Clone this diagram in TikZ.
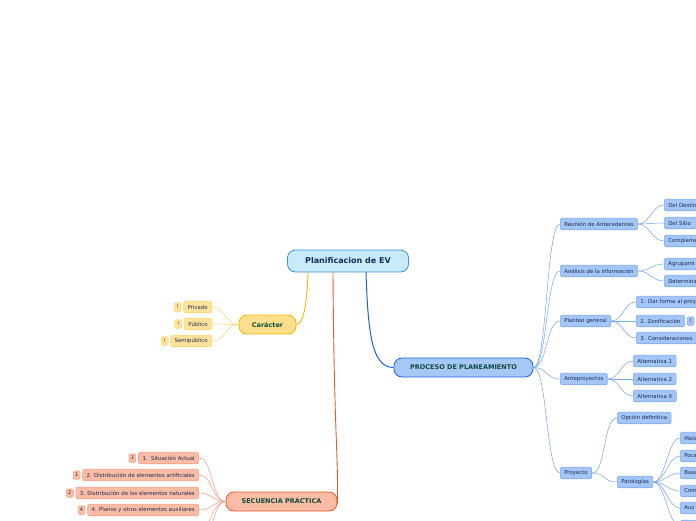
\documentclass[tikz,border=0pt]{standalone}
\usepackage{fontspec}
\setmainfont{DejaVu Sans}
\usepackage{tikz}
\usetikzlibrary{positioning}
\definecolor{rootfill}{HTML}{C8EBFC}
\definecolor{rootline}{HTML}{3D8FD6}
\definecolor{procfill}{HTML}{A6C8F7}
\definecolor{procline}{HTML}{1F60D6}
\definecolor{bluefill}{HTML}{A4C6F6}
\definecolor{blueline}{HTML}{7DA9EE}
\definecolor{orfill}{HTML}{FFDF8C}
\definecolor{orline}{HTML}{F5B700}
\definecolor{orsub}{HTML}{FFE39B}
\definecolor{orsubline}{HTML}{FFD36B}
\definecolor{salfill}{HTML}{FBBCA5}
\definecolor{salline}{HTML}{F0582A}
\definecolor{salsubline}{HTML}{F5A088}
\definecolor{textgreen}{HTML}{0F4A3A}
\definecolor{textnavy}{HTML}{1A2B55}
\tikzset{
  topic/.style={draw,rounded corners=8pt,line width=0.8pt,text=textgreen,
    font=\bfseries\fontsize{6.5}{7}\selectfont,minimum height=19pt},
  sub/.style={draw=blueline,fill=bluefill,rounded corners=2pt,line width=0.6pt,
    text=textnavy,font=\fontsize{5.4}{6.4}\selectfont,minimum height=11.5pt,
    inner xsep=4pt,inner ysep=1pt},
  cut/.style={sub,anchor=west,text width=64pt,align=left},
  badge/.style={draw,rounded corners=1.5pt,line width=0.5pt,text=textnavy,
    font=\fontsize{5}{6}\selectfont,minimum width=7pt,minimum height=8.5pt,inner sep=0.5pt},
  bline/.style={draw=blueline,line width=0.55pt},
  oline/.style={draw=orsubline,line width=0.55pt},
  sline/.style={draw=salsubline,line width=0.55pt},
}
\begin{document}
\begin{tikzpicture}[x=1pt,y=-1pt]
  \useasboundingbox (0,0) rectangle (696,520);
  \clip (0,0) rectangle (696,520);
  % central topic
  \node[draw=rootline,fill=rootfill,rounded corners=8pt,line width=0.8pt,
        minimum width=121pt,minimum height=22pt,text=textnavy,
        font=\bfseries\fontsize{8}{9}\selectfont] (root) at (348,261) {Planificacion de EV};
  \node[topic,draw=orline,fill=orfill,minimum width=57pt] (car) at (267.5,324.5) {Carácter};
  \node[topic,draw=salline,fill=salfill,minimum width=111pt] (sec) at (281.5,501.5) {SECUENCIA PRACTICA};
  \node[topic,draw=procline,fill=procfill,minimum width=139pt] (proc) at (463.5,367.5) {PROCESO DE PLANEAMIENTO};
  \draw[orline,line width=0.9pt] ([xshift=-40pt]root.south) .. controls +(-1,36) and +(6,0) .. (car.east);
  \draw[salline,line width=0.9pt] ([xshift=-15pt]root.south) .. controls +(1,160) and +(1,-50) .. ([yshift=-2pt]sec.east);
  \draw[procline,line width=1pt] ([xshift=18pt]root.south) .. controls +(2,60) and +(-22,0) .. (proc.west);
  % caracter
  \foreach \n/\y/\t in {pri/307/Privado,pub/324/Público,sem/341/Semipúblico}{
    \node[sub,draw=orsubline,fill=orsub,anchor=east] (\n) at (212,\y) {\t};
    \node[badge,draw=orsubline,fill=orsub,left=2pt of \n] (\n b) {!};
    \draw[oline] (car.west) .. controls +(-14,0) and +(14,0) .. (\n.east);
  }
  % secuencia practica
  \foreach \n/\y/\k/\t in {s1/458/1/1.\ \ Situación Actual,
      s2/475/1/2. Distribución de elementos artificiales,
      s3/493/2/3. Distribución de los elementos naturales,
      s4/510/4/4. Planos y otros elementos auxiliares}{
    \node[sub,draw=salsubline,fill=salfill,anchor=east] (\n) at (199,\y) {\t};
    \node[badge,draw=salsubline,fill=salfill,left=2pt of \n] (\n b) {\k};
    \draw[sline] (sec.west) .. controls +(-14,0) and +(14,0) .. (\n.east);
  }
  \coordinate (s5) at (199,528);
  \coordinate (s6) at (199,546);
  \draw[sline] (sec.west) .. controls +(-14,0) and +(14,0) .. (s5);
  \draw[sline] (sec.west) .. controls +(-14,0) and +(14,0) .. (s6);
  % proceso de planeamiento
  \foreach \n/\y/\t in {reu/224/Reunión de Antecedentes,ana/271/Análisis de la información,
      pla/321/Planteo general,ant/379/Anteproyectos,pro/473/Proyecto}{
    \node[sub,anchor=west] (\n) at (560,\y) {\t};
    \draw[bline] (proc.east) .. controls +(14,0) and +(-14,0) .. (\n.west);
  }
  \foreach \n/\y/\t in {des/205/Del Destin,sit/223/Del Sitio,com/241/Compleme}{
    \node[cut] (\n) at (664,\y) {\t};
    \draw[bline] (reu.east) .. controls +(12,0) and +(-12,0) .. (\n.west);
  }
  \foreach \n/\y/\t in {agr/264/Agrupami,det/281/Determina}{
    \node[cut] (\n) at (664,\y) {\t};
    \draw[bline] (ana.east) .. controls +(12,0) and +(-12,0) .. (\n.west);
  }
  \foreach \n/\y/\t in {pa/302/1. Dar forma al proy,pc/338/3. Consideraciones}{
    \node[cut] (\n) at (636,\y) {\t};
    \draw[bline] (pla.east) .. controls +(12,0) and +(-12,0) .. (\n.west);
  }
  \node[sub,anchor=west] (pb) at (636,321) {2. Zonificación};
  \node[badge,draw=blueline,fill=bluefill,right=2pt of pb] (pbb) {!};
  \draw[bline] (pla.east) .. controls +(12,0) and +(-12,0) .. (pb.west);
  \foreach \n/\y/\t in {al1/361/Alternativa 1,al2/379/Alternativa 2,alx/396/Alternativa X}{
    \node[sub,anchor=west] (\n) at (633,\y) {\t};
    \draw[bline] (ant.east) .. controls +(12,0) and +(-12,0) .. (\n.west);
  }
  \node[sub,anchor=west] (opc) at (617,418) {Opción definitiva};
  \node[sub,anchor=west] (pat) at (617,482) {Patologías};
  \draw[bline] (pro.east) .. controls +(14,0) and +(-14,0) .. (opc.west);
  \draw[bline] (pro.east) .. controls +(14,0) and +(-14,0) .. (pat.west);
  \foreach \n/\y/\t in {t1/438/Mala,t2/456/Poca,t3/473/Basa,t4/491/Com,t5/508/Aus,t6/526/{}}{
    \node[cut] (\n) at (680,\y) {\t};
    \draw[bline] (pat.east) .. controls +(12,0) and +(-12,0) .. (\n.west);
  }
\end{tikzpicture}
\end{document}
